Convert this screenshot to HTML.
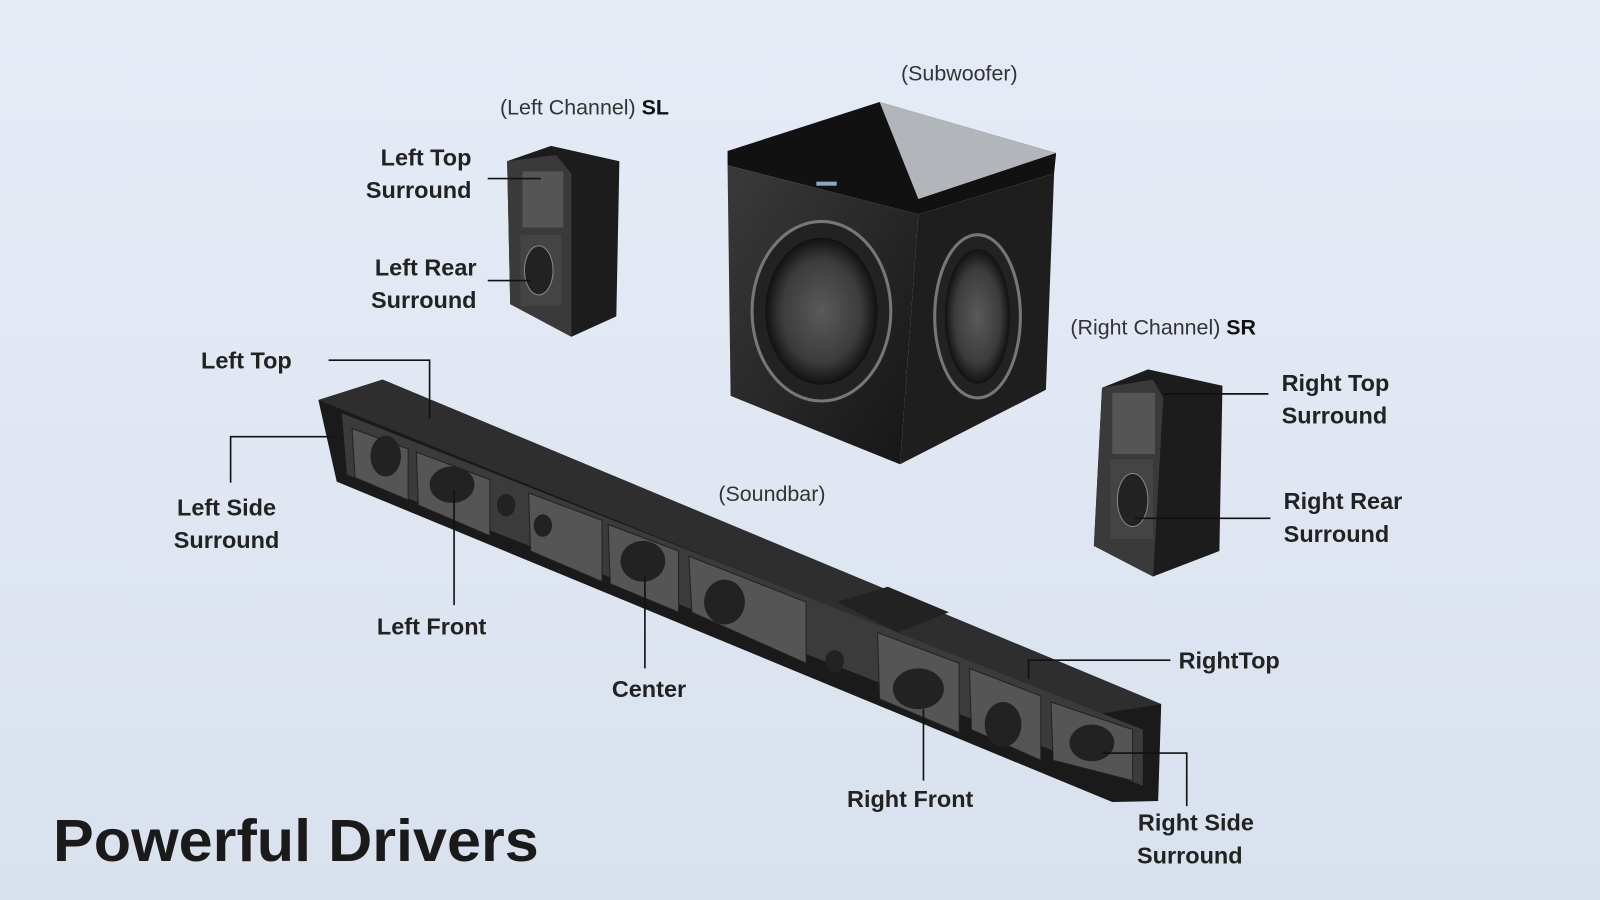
<!DOCTYPE html>
<html><head><meta charset="utf-8"><style>
html,body{margin:0;padding:0;}
body{width:1600px;height:900px;overflow:hidden;background:linear-gradient(180deg,#e6ecf6 0%,#dfe6f2 60%,#d9e1ee 100%);}
svg{display:block}
text{font-family:"Liberation Sans",sans-serif;fill:#1a1a1a;}
.l{font-size:23px;font-weight:700;fill:#222;}
.s{font-size:21px;fill:#333;}
</style></head><body>
<svg width="1600" height="900" viewBox="0 0 1568 882" preserveAspectRatio="none">
<defs>
<linearGradient id="g1" x1="0" y1="0" x2="1" y2="1"><stop offset="0" stop-color="#3a3a3a"/><stop offset="1" stop-color="#151515"/></linearGradient>
<radialGradient id="w" cx="0.5" cy="0.5" r="0.5"><stop offset="0" stop-color="#5a5a5a"/><stop offset="0.7" stop-color="#3c3c3c"/><stop offset="1" stop-color="#111"/></radialGradient>
</defs>
<!-- Subwoofer -->
<polygon points="713,148 862,100 1035,150 1033,170 900,210 713,162" fill="#111"/>
<polygon points="862,100 1035,150 900,195" fill="#cfd3d8" opacity="0.85"/>
<polygon points="713,162 900,210 882,455 716,388" fill="url(#g1)"/>
<polygon points="900,210 1033,170 1025,382 882,455" fill="#1e1e1e"/>
<ellipse cx="805" cy="305" rx="68" ry="88" fill="#222" stroke="#777" stroke-width="3"/>
<ellipse cx="805" cy="305" rx="55" ry="72" fill="url(#w)"/>
<ellipse cx="958" cy="310" rx="42" ry="80" fill="#222" stroke="#777" stroke-width="3"/>
<ellipse cx="958" cy="310" rx="32" ry="66" fill="url(#w)"/>
<rect x="800" y="178" width="20" height="4" fill="#8ab"/>
<!-- SL speaker -->
<polygon points="497,158 540,143 607,158 604,310 560,330 500,298" fill="#1c1c1c"/>
<polygon points="497,158 545,152 560,170 560,330 500,298" fill="#3a3a3a"/>
<rect x="512" y="168" width="40" height="55" fill="#555"/>
<rect x="510" y="230" width="40" height="70" fill="#444"/>
<ellipse cx="528" cy="265" rx="14" ry="24" fill="#222" stroke="#888"/>
<!-- SR speaker -->
<polygon points="1080,380 1125,362 1198,378 1195,540 1130,565 1072,535" fill="#1c1c1c"/>
<polygon points="1080,380 1130,372 1140,390 1130,565 1072,535" fill="#3a3a3a"/>
<rect x="1090" y="385" width="42" height="60" fill="#555"/>
<rect x="1088" y="450" width="42" height="78" fill="#444"/>
<ellipse cx="1110" cy="490" rx="15" ry="26" fill="#222" stroke="#888"/>
<!-- Soundbar -->
<polygon points="312,392 375,372 1138,690 1135,785 1090,786 330,472" fill="#1a1a1a"/>
<polygon points="312,392 375,372 1138,690 1075,700" fill="#2e2e2e"/>
<polygon points="335,405 1120,715 1120,770 340,465" fill="#3b3b3b"/>
<g fill="#555" stroke="#222">
<polygon points="345,420 400,440 400,490 348,468"/>
<polygon points="408,443 480,470 480,525 410,495"/>
<polygon points="518,483 590,510 590,570 520,540"/>
<polygon points="596,514 665,540 665,600 598,572"/>
<polygon points="675,545 790,590 790,650 678,600"/>
<polygon points="860,620 940,650 940,718 862,685"/>
<polygon points="950,655 1020,682 1020,745 952,715"/>
<polygon points="1030,688 1110,715 1110,765 1032,745"/>
</g>
<polygon points="820,590 870,575 930,600 880,620" fill="#222"/>
<g fill="#222"><ellipse cx="378" cy="447" rx="15" ry="20"/><ellipse cx="443" cy="475" rx="22" ry="18"/><ellipse cx="630" cy="550" rx="22" ry="20"/><ellipse cx="710" cy="590" rx="20" ry="22"/><ellipse cx="900" cy="675" rx="25" ry="20"/><ellipse cx="983" cy="710" rx="18" ry="22"/><ellipse cx="1070" cy="728" rx="22" ry="18"/><ellipse cx="496" cy="495" rx="9" ry="11"/><ellipse cx="532" cy="515" rx="9" ry="11"/><ellipse cx="818" cy="648" rx="9" ry="11"/></g>
<!-- leader lines -->
<g stroke="#111" stroke-width="1.6" fill="none">
<polyline points="322,353 421,353 421,410"/>
<polyline points="226,473 226,428 330,428"/>
<polyline points="445,593 445,480"/>
<polyline points="632,655 632,565"/>
<polyline points="1147,647 1008,647 1008,665"/>
<polyline points="905,765 905,695"/>
<polyline points="1163,790 1163,738 1080,738"/>
<line x1="478" y1="175" x2="530" y2="175"/>
<line x1="478" y1="275" x2="520" y2="275"/>
<line x1="1243" y1="386" x2="1140" y2="386"/>
<line x1="1245" y1="508" x2="1112" y2="508"/>
</g>
<!-- labels -->
<text class="s" x="490" y="112">(Left Channel) <tspan font-weight="700" fill="#111">SL</tspan></text>
<text class="s" x="883" y="79">(Subwoofer)</text>
<text class="s" x="1049" y="328">(Right Channel) <tspan font-weight="700" fill="#111">SR</tspan></text>
<text class="s" x="704" y="491">(Soundbar)</text>
<text class="l" x="462" y="162" text-anchor="end">Left Top</text>
<text class="l" x="462" y="194" text-anchor="end">Surround</text>
<text class="l" x="467" y="270" text-anchor="end">Left Rear</text>
<text class="l" x="467" y="302" text-anchor="end">Surround</text>
<text class="l" x="197" y="361">Left Top</text>
<text class="l" x="222" y="505" text-anchor="middle">Left Side</text>
<text class="l" x="222" y="537" text-anchor="middle">Surround</text>
<text class="l" x="423" y="622" text-anchor="middle">Left Front</text>
<text class="l" x="636" y="683" text-anchor="middle">Center</text>
<text class="l" x="1256" y="383">Right Top</text>
<text class="l" x="1256" y="415">Surround</text>
<text class="l" x="1258" y="499">Right Rear</text>
<text class="l" x="1258" y="531">Surround</text>
<text class="l" x="1155" y="655">RightTop</text>
<text class="l" x="892" y="791" text-anchor="middle">Right Front</text>
<text class="l" x="1172" y="814" text-anchor="middle">Right Side</text>
<text class="l" x="1166" y="846" text-anchor="middle">Surround</text>
<text x="52" y="844" font-size="58" font-weight="700" fill="#111" textLength="476" lengthAdjust="spacingAndGlyphs" style="font-family:'Liberation Sans',sans-serif">Powerful Drivers</text>
</svg>
</body></html>
